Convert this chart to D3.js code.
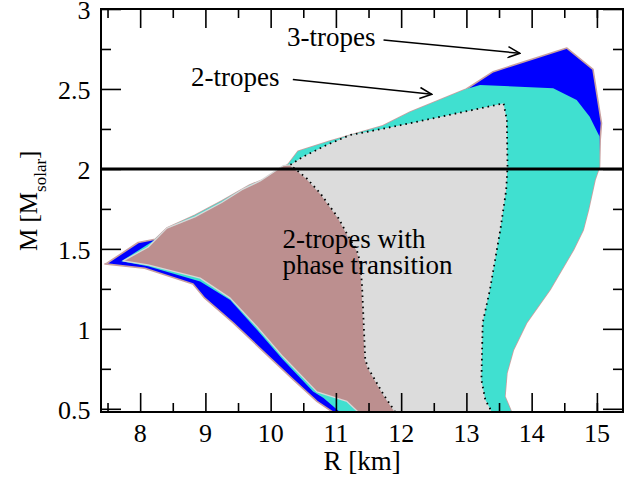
<!DOCTYPE html>
<html><head><meta charset="utf-8">
<script src="https://cdn.jsdelivr.net/npm/d3@7"></script>
<style>
body{margin:0;background:#fff}
svg{display:block}
text{font-family:"Liberation Serif","Times New Roman",serif;fill:#000}
</style>
</head><body>
<svg id="c" width="639" height="478"></svg>
<script>
// ---- data: [R (km), M (Msun)] outlines ----
const threeTropes = [
  [7.49,1.41],[7.97,1.54],[8.23,1.56],[8.41,1.63],[8.84,1.71],[9.25,1.80],[9.68,1.90],
  [9.99,1.95],[10.27,2.03],[10.42,2.11],[10.91,2.175],[11.72,2.27],[12.14,2.356],
  [13.00,2.50],[13.41,2.608],[14.54,2.756],[14.94,2.623],[15.07,2.286],[15.05,2.18],
  [15.04,2.014],[14.97,1.93],[14.87,1.744],[14.79,1.619],[14.64,1.494],[14.28,1.244],
  [13.92,1.036],[13.72,0.869],[13.62,0.723],[13.59,0.577],[13.69,0.48],
  [10.95,0.48],[10.71,0.546],[10.35,0.681],[9.89,0.858],[9.43,1.036],[8.99,1.192],
  [8.81,1.281],[8.07,1.379],[7.46,1.406]
];
const twoTropes = [
  [7.71,1.422],[8.20,1.55],[8.41,1.63],[8.84,1.71],[9.25,1.80],[9.68,1.90],[9.99,1.95],
  [10.27,2.03],[10.42,2.11],[10.91,2.175],[11.72,2.27],[12.14,2.356],[13.00,2.50],
  [13.21,2.525],[14.33,2.504],[14.69,2.431],[14.89,2.327],[15.04,2.202],
  [15.04,2.014],[14.97,1.93],[14.87,1.744],[14.79,1.619],[14.64,1.494],[14.28,1.244],
  [13.92,1.036],[13.72,0.869],[13.62,0.723],[13.59,0.577],[13.69,0.48],
  [11.06,0.48],[10.81,0.567],[10.65,0.608],[10.19,0.806],[9.79,0.994],[9.38,1.181],
  [8.92,1.296],[8.12,1.391]
];
const phaseTransitionLeft = [
  [7.74,1.425],[8.12,1.51],[8.41,1.63],[8.84,1.70],[9.25,1.79],[9.56,1.87],[9.84,1.925],
  [10.19,2.02],[10.30,2.025],
  [10.55,1.942],[10.76,1.848],[11.04,1.692],[11.22,1.556],[11.32,1.494],[11.37,1.419],
  [11.40,1.275],[11.45,0.806],[11.50,0.751],[11.73,0.589],[11.91,0.48],
  [11.34,0.48],[11.17,0.546],[10.71,0.606],[10.19,0.825],[9.79,1.013],[9.38,1.192],
  [8.92,1.317],[8.12,1.40]
];
// boundary shared by both phase-transition areas (from the axis up to the top junction)
const ptDivide = [
  [11.91,0.48],[11.73,0.589],[11.50,0.751],[11.45,0.806],[11.40,1.275],[11.37,1.419],
  [11.32,1.494],[11.22,1.556],[11.04,1.692],[10.76,1.848],[10.55,1.942],[10.30,2.025]
];
const ptTopRight = [
  [10.30,2.025],[10.50,2.077],[10.86,2.15],[11.22,2.2125],[11.63,2.244],[12.14,2.286],
  [13.57,2.41],[13.62,2.306],[13.63,2.014],[13.61,1.869],[13.52,1.619],[13.36,1.244],
  [13.25,1.0375],[13.23,0.681],[13.29,0.556],[13.39,0.48]
];
const xMajorTicks = [8,9,10,11,12,13,14,15];
const xMinorTicks = [7.5,8.5,9.5,10.5,11.5,12.5,13.5,14.5,15];
const yMajorTicks = [0.5,1,1.5,2,2.5,3];
const yMinorTicks = [0.75,1.25,1.75,2.25,2.75];
const yTickLabels = ["0.5","1","1.5","2","2.5","3"];
const massLine = 2.0;
const labels = [
  {text:"3-tropes", R:10.25, M:2.769},
  {text:"2-tropes", R:8.78, M:2.519},
  {text:"2-tropes with", R:10.18, M:1.504},
  {text:"phase transition", R:10.18, M:1.344}
];
const arrows = [
  {from:[11.73,2.806], to:[13.82,2.723]},
  {from:[10.34,2.559], to:[12.47,2.467]}
];

// ---- chart ----
const L=101, Rr=623, T=9, B=412;
const x = d3.scaleLinear().domain([7.4,15.4]).range([L,Rr]);
const y = d3.scaleLinear().domain([0.48,3]).range([B,T]);
const svg = d3.select("#c");
const defs = svg.append("defs");
defs.append("clipPath").attr("id","clip").append("rect")
  .attr("x",L).attr("y",T).attr("width",Rr-L).attr("height",B-T);
defs.append("marker").attr("id","arr").attr("viewBox","0 -7 13 14")
  .attr("refX",12).attr("refY",0).attr("markerWidth",13).attr("markerHeight",14)
  .attr("markerUnits","userSpaceOnUse").attr("orient","auto")
  .append("path").attr("d","M0,-5.5L12,0L0,5.5").attr("fill","none")
  .attr("stroke","#000").attr("stroke-width",1.5);

const line = d3.line().x(d=>x(d[0])).y(d=>y(d[1]));
const g = svg.append("g").attr("clip-path","url(#clip)");

g.append("path").attr("d",line(threeTropes)+"Z").attr("fill","#0000ff")
  .attr("stroke","#c9a0a0").attr("stroke-width",1.6).attr("stroke-linejoin","round");
g.append("path").attr("d",line(twoTropes)+"Z").attr("fill","#40e0d0");
// gray area: top/right boundary plus the shared divide
const grayPoly = ptTopRight.concat([[11.91,0.48]], ptDivide);
g.append("path").attr("d",line(grayPoly)+"Z").attr("fill","#dcdcdc");
g.append("path").attr("d",line(phaseTransitionLeft)+"Z").attr("fill","#bc8f8f")
  .attr("stroke","#d8d8d8").attr("stroke-width",1.3).attr("stroke-linejoin","round");
// dotted outline of the phase-transition region
g.append("path").attr("d",line(ptDivide.concat(ptTopRight.slice(1)))).attr("fill","none")
  .attr("stroke","#000").attr("stroke-width",1.8).attr("stroke-dasharray","1.6,4");

// M = 2 line
svg.append("line").attr("x1",L).attr("x2",Rr).attr("y1",y(massLine)).attr("y2",y(massLine))
  .attr("stroke","#000").attr("stroke-width",3);

// axes (ticks pointing inward)
function tickAxis(axisFn, scale, vals, size, tr){
  const a = svg.append("g").attr("transform",tr)
    .call(axisFn(scale).tickValues(vals).tickSize(size).tickFormat(""));
  a.select(".domain").remove();
  a.selectAll("line").attr("stroke","#000").attr("stroke-width",1.6);
  return a;
}
tickAxis(d3.axisBottom, x, xMajorTicks, -19, `translate(0,${B})`);
tickAxis(d3.axisBottom, x, xMinorTicks, -9, `translate(0,${B})`);
tickAxis(d3.axisTop, x, xMajorTicks, -19, `translate(0,${T})`);
tickAxis(d3.axisTop, x, xMinorTicks, -9, `translate(0,${T})`);
tickAxis(d3.axisLeft, y, yMajorTicks, -20, `translate(${L},0)`);
tickAxis(d3.axisLeft, y, yMinorTicks, -10, `translate(${L},0)`);
tickAxis(d3.axisRight, y, yMajorTicks, -20, `translate(${Rr},0)`);
tickAxis(d3.axisRight, y, yMinorTicks, -10, `translate(${Rr},0)`);

svg.append("rect").attr("x",L).attr("y",T).attr("width",Rr-L).attr("height",B-T)
  .attr("fill","none").attr("stroke","#000").attr("stroke-width",2);

// tick labels
svg.append("g").selectAll("text").data(xMajorTicks).join("text")
  .attr("x",d=>x(d)).attr("y",441.5).attr("text-anchor","middle")
  .attr("font-size",26).text(d=>d);
svg.append("g").selectAll("text").data(yMajorTicks).join("text")
  .attr("x",90.5).attr("y",d=>y(d)).attr("dy","0.4em").attr("text-anchor","end")
  .attr("font-size",26).text((d,i)=>yTickLabels[i]);

// axis titles
svg.append("text").attr("x",362).attr("y",470).attr("text-anchor","middle")
  .attr("font-size",27).text("R [km]");
const yl = svg.append("text").attr("transform","translate(37,251) rotate(-90)")
  .attr("font-size",25);
yl.append("tspan").text("M [M");
yl.append("tspan").attr("font-size",17).attr("dy",9).text("solar");
yl.append("tspan").attr("dy",-9).text("]");

// annotations
svg.append("g").selectAll("text").data(labels).join("text")
  .attr("x",d=>x(d.R)).attr("y",d=>y(d.M)).attr("font-size",27).text(d=>d.text);
svg.append("g").selectAll("line").data(arrows).join("line")
  .attr("x1",d=>x(d.from[0])).attr("y1",d=>y(d.from[1]))
  .attr("x2",d=>x(d.to[0])).attr("y2",d=>y(d.to[1]))
  .attr("stroke","#000").attr("stroke-width",1.5).attr("marker-end","url(#arr)");
</script>
</body></html>
